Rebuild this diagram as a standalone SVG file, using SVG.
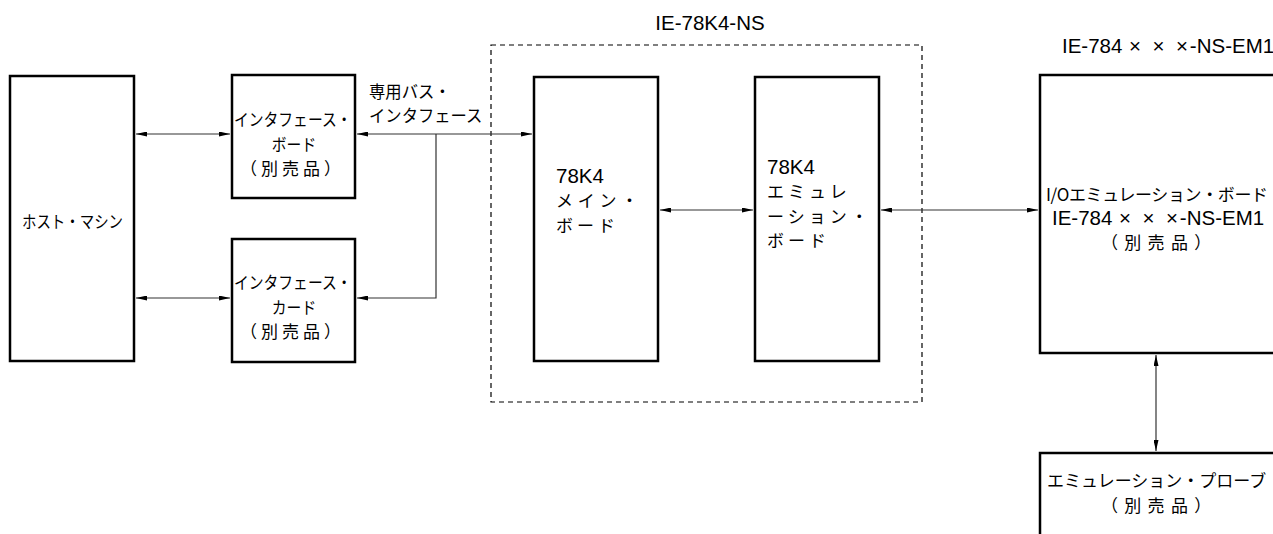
<svg xmlns="http://www.w3.org/2000/svg" width="1273" height="534" viewBox="0 0 1273 534">
<defs>
<style>
.box{fill:#fff;stroke:#000;stroke-width:2.5}
.grp{fill:none;stroke:#000;stroke-width:1.2;stroke-dasharray:5 4}
.cn{fill:none;stroke:#333;stroke-width:1.2}
.ar{marker-start:url(#ah);marker-end:url(#ah)}
.ae{marker-end:url(#ah)}
text{fill:#000}
.jp{font-family:"Noto Sans CJK JP","Liberation Sans",sans-serif;font-size:17px}
.lat{font-family:"Liberation Sans","Noto Sans CJK JP",sans-serif;font-size:20.5px}
</style>
<marker id="ah" viewBox="0 0 11 5" refX="11" refY="2.5" markerWidth="11" markerHeight="5" markerUnits="userSpaceOnUse" orient="auto-start-reverse">
<path d="M0,0 L11,2.5 L0,5 z" fill="#000"/>
</marker>
</defs>

<g id="group-ie78k4ns">
<rect class="grp" x="491" y="45" width="431" height="357"/>
<text class="lat" x="710" y="30" text-anchor="middle">IE-78K4-NS</text>
</g>

<g id="label-em1">
<text class="lat" x="1062" y="53">IE-784<tspan dx="6.5">×</tspan><tspan dx="11.5">×</tspan><tspan dx="11.5">×</tspan><tspan dx="2">-NS-EM1</tspan></text>
</g>

<g id="connectors">
<line class="cn ar" x1="136" y1="134" x2="230" y2="134"/>
<line class="cn ar" x1="136" y1="298" x2="230" y2="298"/>
<line class="cn ar" x1="357" y1="134" x2="532" y2="134"/>
<polyline class="cn ae" points="436,134 436,298 357,298"/>
<line class="cn ar" x1="660" y1="210" x2="753" y2="210"/>
<line class="cn ar" x1="881" y1="210" x2="1038" y2="210"/>
<line class="cn ar" x1="1156" y1="355" x2="1156" y2="451"/>
</g>

<g id="bus-label">
<text class="jp" transform="translate(369,97.5) scale(0.96,1)">専用バス・</text>
<text class="jp" transform="translate(369,122) scale(0.96,1)">インタフェース</text>
</g>

<g id="host">
<rect class="box" x="10" y="76" width="124" height="285"/>
<text class="jp" transform="translate(72.5,228) scale(0.85,1)" text-anchor="middle">ホスト・マシン</text>
</g>

<g id="if-board">
<rect class="box" x="232" y="75" width="123" height="123"/>
<text class="jp" transform="translate(234,126) scale(0.87,1)">インタフェース・</text>
<text class="jp" transform="translate(294,150.6) scale(0.87,1)" text-anchor="middle">ボード</text>
<text class="jp" x="240" y="175.2" letter-spacing="4">（別売品）</text>
</g>

<g id="if-card">
<rect class="box" x="232" y="239" width="123" height="123"/>
<text class="jp" transform="translate(234,289) scale(0.87,1)">インタフェース・</text>
<text class="jp" transform="translate(294,313.6) scale(0.87,1)" text-anchor="middle">カード</text>
<text class="jp" x="240" y="338.2" letter-spacing="4">（別売品）</text>
</g>

<g id="main-board">
<rect class="box" x="534" y="77" width="124" height="284"/>
<text class="lat" x="556" y="183">78K4</text>
<text class="jp" x="556" y="207" letter-spacing="4.7">メイン・</text>
<text class="jp" x="556" y="231.6" letter-spacing="4">ボード</text>
</g>

<g id="emu-board">
<rect class="box" x="755" y="77" width="124" height="284"/>
<text class="lat" x="767" y="174">78K4</text>
<text class="jp" x="767" y="198" letter-spacing="4">エミュレ</text>
<text class="jp" x="767" y="222.7" letter-spacing="4">ーション・</text>
<text class="jp" x="767" y="247.4" letter-spacing="4">ボード</text>
</g>

<g id="io-board">
<rect class="box" x="1040" y="75" width="236" height="278"/>
<text class="jp" x="1046" y="201" textLength="222" lengthAdjust="spacing">I/Oエミュレーション・ボード</text>
<text class="lat" x="1052" y="224.5">IE-784<tspan dx="6.5">×</tspan><tspan dx="11.5">×</tspan><tspan dx="11.5">×</tspan><tspan dx="2">-NS-EM1</tspan></text>
<text class="jp" x="1101" y="248.5" letter-spacing="6.3">（別売品）</text>
</g>

<g id="probe">
<rect class="box" x="1040" y="453" width="236" height="100"/>
<text class="jp" x="1047" y="486.5">エミュレーション・プローブ</text>
<text class="jp" x="1101" y="511.5" letter-spacing="6.3">（別売品）</text>
</g>
</svg>
